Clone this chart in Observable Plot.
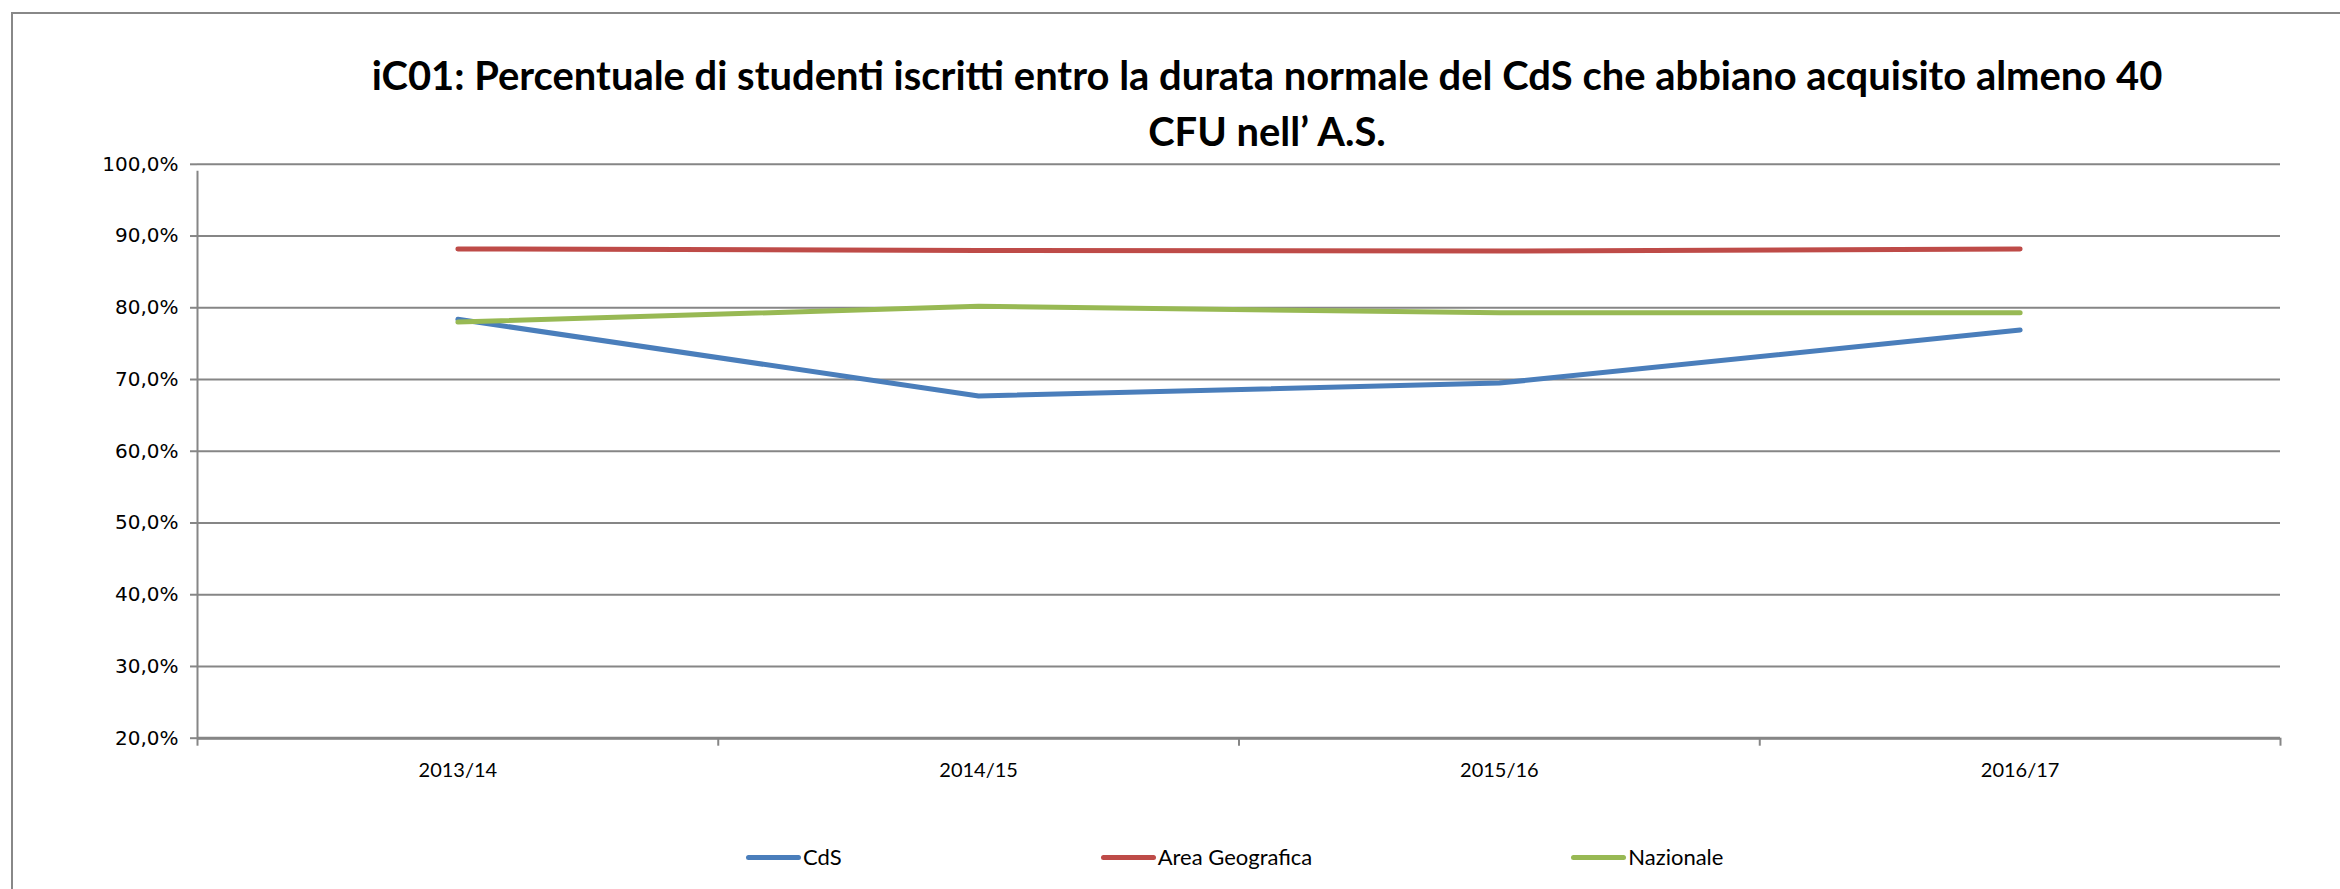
<!DOCTYPE html>
<html><head><meta charset="utf-8">
<script src="https://cdn.jsdelivr.net/npm/d3@7"></script>
<script src="https://cdn.jsdelivr.net/npm/@observablehq/plot@0.6"></script>
<style>
html,body{margin:0;padding:0;background:#fff;}
body{width:2340px;height:889px;overflow:hidden;position:relative;font-family:Lato,"Open Sans",sans-serif;color:#000;}
#frame{position:absolute;left:11px;top:12px;width:2400px;height:1000px;border-top:2px solid #888;border-left:2px solid #888;box-sizing:border-box;}
#title{position:absolute;top:47px;left:0;width:2534px;text-align:center;font-weight:700;line-height:56px;font-family:Lato,sans-serif;}
#chart{position:absolute;left:0;top:150px;}
#legend{position:absolute;left:746px;top:843px;display:flex;gap:259px;font-size:22px;font-family:Lato,sans-serif;line-height:28px;}
.item{display:flex;align-items:center;gap:2px;}
.sw{width:55px;height:5px;border-radius:3px;}
</style></head>
<body>
<div id="frame"></div>
<div id="title"></div>
<div id="chart"></div>
<div id="legend"></div>
<script>
// ---- data ----
const titleLines = ["iC01: Percentuale di studenti iscritti entro la durata normale del CdS che abbiano acquisito almeno 40", "CFU nell\u2019 A.S."];
const years = ["2013/14", "2014/15", "2015/16", "2016/17"];
const seriesNames = ["CdS", "Area Geografica", "Nazionale"];
const cds = [78.4, 67.7, 69.5, 76.9];
const areaGeografica = [88.2, 88.0, 87.9, 88.2];
const nazionale = [78.0, 80.2, 79.3, 79.3];
const seriesColors = ["#4A7EBB", "#BE4B48", "#98B954"];
const yTicks = [20, 30, 40, 50, 60, 70, 80, 90, 100];

// ---- title ----
const titleEl = document.getElementById("title");
const ctx = document.createElement("canvas").getContext("2d");
ctx.font = "bold 100px Lato";
const w = ctx.measureText(titleLines[0]).width;
const fs = Math.min(40, 100 * 1791 / w);
titleEl.style.fontSize = fs + "px";
titleEl.innerHTML = titleLines.map(t => `<div>${t}</div>`).join("");

// ---- table ----
const seriesValues = [cds, areaGeografica, nazionale];
const rows = [];
seriesNames.forEach((s, k) => {
  seriesValues[k].forEach((v, i) => rows.push({serie: s, anno: years[i], pos: i + 0.5, v}));
});

const it = d3.formatLocale({decimal: ",", thousands: ".", grouping: [3], currency: ["", "\u20ac"]});
const f1 = it.format(".1f");
const grid = "#868686";

const plot = Plot.plot({
  width: 2340,
  height: 640,
  marginTop: 13.8,
  marginBottom: 52.3,
  marginLeft: 197,
  marginRight: 60,
  style: {background: "transparent", color: "#000", overflow: "visible"},
  x: {domain: [0, years.length], axis: null, label: null},
  y: {domain: [yTicks[0], yTicks[yTicks.length - 1]], axis: null, label: null},
  color: {domain: seriesNames, range: seriesColors},
  marks: [
    Plot.gridY({ticks: yTicks, stroke: grid, strokeOpacity: 1, strokeWidth: 2}),
    Plot.axisY({ticks: yTicks, tickSize: 7, tickPadding: 12, tickFormat: d => f1(d) + "%", label: null,
      fontSize: 20, fontFamily: "DejaVu Sans", stroke: grid, strokeWidth: 2, fill: "#000"}),
    Plot.axisX({ticks: d3.range(years.length + 1), tickSize: 8, text: null, label: null, stroke: grid, strokeWidth: 2}),
    Plot.axisX({ticks: years.map((d, i) => i + 0.5), tickFormat: v => years[Math.floor(v)], tickSize: 0, label: null,
      tickPadding: 25, fontSize: 20, fontFamily: "Lato", fill: "#000"}),
    Plot.ruleY([yTicks[0]], {stroke: grid, strokeWidth: 3}),
    Plot.ruleX([0], {y1: yTicks[0], y2: yTicks[yTicks.length - 1], stroke: grid, strokeWidth: 2, insetBottom: -7}),
    Plot.line(rows, {x: "pos", y: "v", z: "serie", stroke: "serie", strokeWidth: 5,
      strokeLinecap: "round", strokeLinejoin: "round"})
  ]
});
document.getElementById("chart").appendChild(plot);

// ---- legend ----
const leg = document.getElementById("legend");
seriesNames.forEach((s, k) => {
  const item = document.createElement("div");
  item.className = "item";
  item.innerHTML = `<div class="sw" style="background:${seriesColors[k]}"></div><span>${s}</span>`;
  leg.appendChild(item);
});
</script>
</body></html>
